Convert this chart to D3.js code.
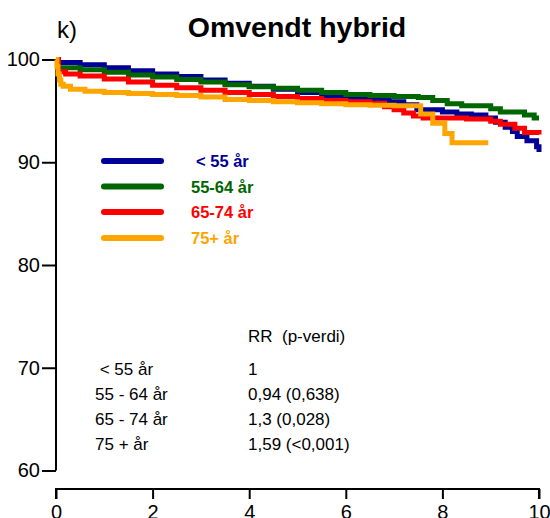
<!DOCTYPE html>
<html>
<head>
<meta charset="utf-8">
<script src="https://cdn.jsdelivr.net/npm/d3@7"></script>
<style>
  body { margin: 0; background: #fff; }
  svg { display: block; font-family: Arial, "Liberation Sans", sans-serif; }
</style>
</head>
<body>
<svg id="chart" width="550" height="518"></svg>
<script>
// ---- Data ----
const groups = ["< 55 år", "55-64 år", "65-74 år", "75+ år"];
const colors = ["#000096", "#006600", "#ff0000", "#ffa500"];

const timeU55 = [0, 0.05, 0.5, 1, 1.5, 2, 2.5, 3, 3.5, 4, 4.5, 5, 5.5, 6, 6.5, 6.9, 7.2, 7.47, 8.0, 8.3, 8.6, 8.9, 9.1, 9.3, 9.45, 9.55, 9.75, 9.95, 10];
const survU55 = [100, 99.7, 99.5, 99.2, 98.9, 98.6, 98.35, 98.0, 97.7, 97.4, 97.1, 96.8, 96.5, 96.3, 96.1, 95.9, 95.6, 95.1, 94.9, 94.7, 94.6, 94.3, 93.9, 93.4, 93.0, 92.5, 92.1, 91.5, 91.0];

const time5564 = [0, 0.05, 0.5, 1, 1.5, 2, 2.5, 3, 3.5, 4, 4.5, 5, 5.5, 6, 6.5, 7, 7.5, 7.8, 8.1, 8.4, 9.0, 9.2, 9.7, 9.9, 10];
const surv5564 = [100, 99.2, 99.0, 98.75, 98.5, 98.3, 98.05, 97.8, 97.55, 97.35, 97.2, 97.0, 96.8, 96.6, 96.5, 96.4, 96.3, 96.0, 95.7, 95.5, 95.2, 94.9, 94.6, 94.3, 94.3];

const time6574 = [0, 0.05, 0.2, 0.5, 1, 1.5, 2, 2.5, 3, 3.5, 4, 4.5, 5, 5.5, 6, 6.5, 6.8, 7.0, 7.2, 7.4, 7.6, 8.5, 9.0, 9.2, 9.5, 9.7, 10];
const surv6574 = [100, 98.8, 98.6, 98.4, 98.1, 97.8, 97.5, 97.25, 97.0, 96.8, 96.6, 96.4, 96.2, 96.0, 95.9, 95.75, 95.4, 95.1, 94.8, 94.5, 94.3, 94.2, 94.0, 93.7, 93.3, 92.9, 92.7];

const time75 = [0, 0.02, 0.04, 0.07, 0.1, 0.15, 0.3, 0.6, 1, 1.5, 2, 2.5, 3, 3.5, 4, 4.5, 5, 5.5, 6, 6.5, 7, 7.55, 7.8, 8.05, 8.2, 8.95];
const surv75 = [100, 99.3, 98.6, 98.0, 97.6, 97.4, 97.1, 96.9, 96.8, 96.7, 96.6, 96.5, 96.35, 96.1, 96.0, 95.9, 95.8, 95.7, 95.6, 95.55, 95.5, 94.7, 93.8, 92.8, 91.9, 91.9];

const xTicks = [0, 2, 4, 6, 8, 10];
const yTicks = [60, 70, 80, 90, 100];

const tableHeader = "RR  (p-verdi)";
const tableGroups = [" < 55 år", "55 - 64 år", "65 - 74 år", "75 + år"];
const tableValues = ["1", "0,94 (0,638)", "1,3 (0,028)", "1,59 (<0,001)"];

// ---- Chart ----
const svg = d3.select("#chart");
const x = d3.scaleLinear().domain([0, 10]).range([56, 539]);
const y = d3.scaleLinear().domain([60, 100]).range([470.5, 59.5]);

// y axis
const yAxis = svg.append("g").attr("transform", "translate(56,0)")
  .call(d3.axisLeft(y).tickValues(yTicks).tickSize(14).tickPadding(2).tickFormat(d3.format("d")));
yAxis.select(".domain").attr("d", `M0,${y(60)}V${y(100)}`);
yAxis.selectAll("path, line").attr("stroke", "#000").attr("stroke-width", 2);
yAxis.selectAll("text").attr("font-size", 20).attr("font-family", "Arial, 'Liberation Sans', sans-serif").attr("fill", "#000");

// x axis
const xAxis = svg.append("g").attr("transform", "translate(0,489)")
  .call(d3.axisBottom(x).tickValues(xTicks).tickSize(10).tickPadding(6).tickFormat(d3.format("d")));
xAxis.select(".domain").attr("d", `M${x(0)},10V0H${x(10)}V10`);
xAxis.selectAll("path, line").attr("stroke", "#000").attr("stroke-width", 2);
xAxis.selectAll("text").attr("font-size", 20).attr("font-family", "Arial, 'Liberation Sans', sans-serif").attr("fill", "#000");

// curves
const series = [
  { t: timeU55, s: survU55 },
  { t: time5564, s: surv5564 },
  { t: time6574, s: surv6574 },
  { t: time75, s: surv75 }
];
const line = d3.line().x(d => x(d[0])).y(d => y(d[1])).curve(d3.curveStepAfter);
series.forEach((sr, i) => {
  const pts = sr.t.map((t, j) => [t, sr.s[j]]);
  svg.append("path").datum(pts)
    .attr("d", line)
    .attr("fill", "none")
    .attr("stroke", colors[i])
    .attr("stroke-width", 5)
    .attr("stroke-linejoin", "miter");
});

// legend
const legY = [161, 186.5, 212, 238];
groups.forEach((g, i) => {
  svg.append("line")
    .attr("x1", 104).attr("x2", 161)
    .attr("y1", legY[i]).attr("y2", legY[i])
    .attr("stroke", colors[i]).attr("stroke-width", 6).attr("stroke-linecap", "round");
  svg.append("text")
    .attr("x", i === 0 ? 196 : 191).attr("y", legY[i] + 6)
    .attr("font-size", 16.5).attr("font-weight", "bold")
    .attr("fill", colors[i])
    .text(g);
});

// title
svg.append("text").attr("x", 297).attr("y", 37).attr("text-anchor", "middle")
  .attr("font-size", 28.5).attr("font-weight", "bold").text("Omvendt hybrid");
svg.append("text").attr("x", 57).attr("y", 38)
  .attr("font-size", 24).text("k)");

// RR table
svg.append("text").attr("x", 248).attr("y", 342).attr("font-size", 17)
  .style("white-space", "pre").text(tableHeader);
tableGroups.forEach((g, i) => {
  svg.append("text").attr("x", 95).attr("y", 375 + i * 25).attr("font-size", 17)
    .style("white-space", "pre").text(g);
  svg.append("text").attr("x", 248).attr("y", 375 + i * 25).attr("font-size", 17)
    .text(tableValues[i]);
});
</script>
</body>
</html>
